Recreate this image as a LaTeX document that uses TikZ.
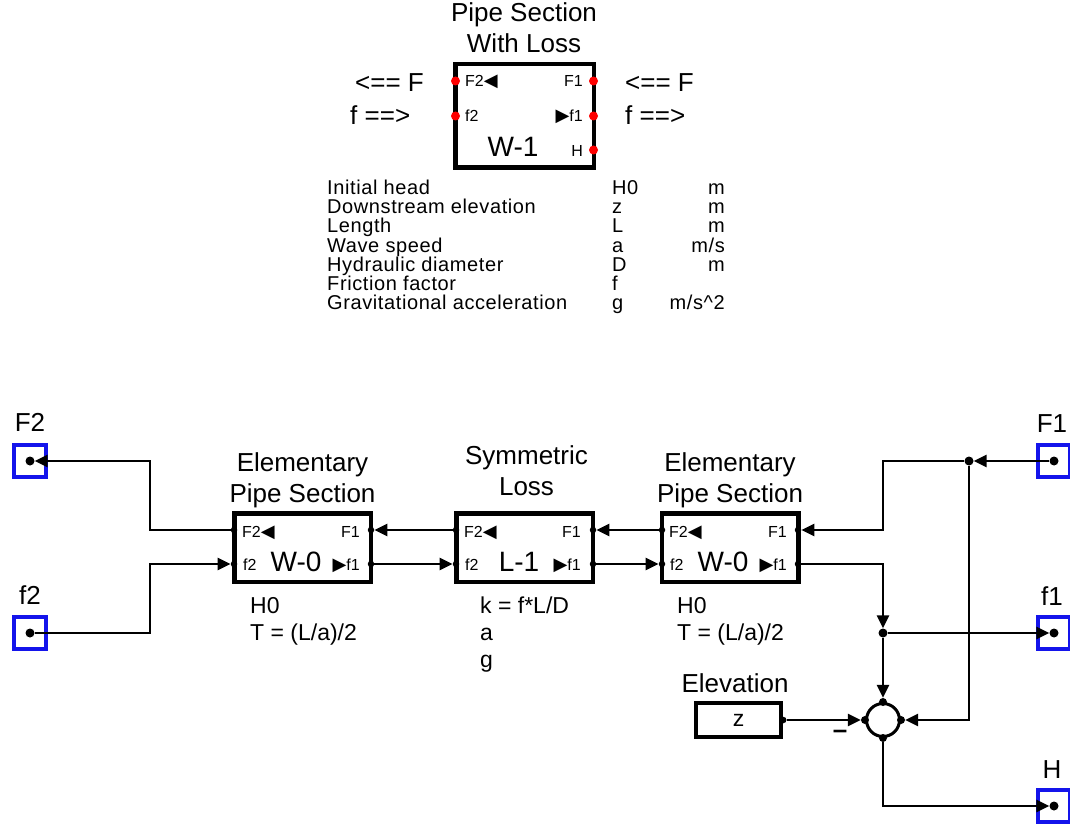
\documentclass[tikz,border=0pt]{standalone}
\usepackage{fontspec}
\setmainfont{Liberation Sans}
\newfontfamily\tabfont[LetterSpace=3]{Liberation Sans}
\newfontfamily\symfont{DejaVu Sans}
\usetikzlibrary{arrows.meta}
\definecolor{portblue}{RGB}{20,20,235}
\newcommand\fTitle{\fontsize{26}{31}\selectfont}
\newcommand\fBlk{\fontsize{28}{30}\selectfont}
\newcommand\fTab{\tabfont\fontsize{20}{19}\selectfont}
\newcommand\fNote{\fontsize{23}{27}\selectfont}
\newcommand\fPort{\fontsize{16}{18}\selectfont}
\newcommand\tl{{\symfont\fontsize{18}{18}\selectfont ◀}}
\newcommand\tr{{\symfont\fontsize{18}{18}\selectfont ▶}}

\tikzset{
  blk/.style={draw, line width=4.5pt, inner sep=0pt},
  pdot/.style={circle, fill=black, inner sep=0pt, minimum size=6.5pt},
  jdot/.style={circle, fill=black, inner sep=0pt, minimum size=9pt},
  rdot/.style={circle, fill=red, inner sep=0pt, minimum size=9pt},
  portbox/.style={draw=portblue, line width=4pt, minimum size=32pt, inner sep=0pt},
  flow/.style={line width=2.8pt, -{Triangle[length=13pt,width=12pt]}},
  txt/.style={inner sep=0pt},
}

\begin{document}
\begin{tikzpicture}[x=1pt, y=-1pt]
  \useasboundingbox (0,0) rectangle (1070,826);
  % bloque resumen W-1 con sus puertos (rojos)
  \node[txt, align=center, font=\fTitle] (ttlW) at (524,28) {Pipe Section\\With Loss};
  \node[blk, minimum width=138.5pt, minimum height=103.5pt] (wone) at (524.5,116) {};
  \node[rdot] (oF2) at (455.5,81) {};
  \node[rdot] (of2) at (455.5,116) {};
  \node[rdot] (oF1) at (593.5,81) {};
  \node[rdot] (of1) at (593.5,116) {};
  \node[rdot] (oH) at (593.5,150) {};
  \node[txt, font=\fPort, anchor=base west] (oF2t) at (465,87) {F2\tl};
  \node[txt, font=\fPort, anchor=base east] (oF1t) at (583,87) {F1};
  \node[txt, font=\fPort, anchor=base west] (of2t) at (465,122) {f2};
  \node[txt, font=\fPort, anchor=base east] (of1t) at (583,122) {\tr f1};
  \node[txt, font=\fBlk, anchor=base] (onet) at (513,157) {W-1};
  \node[txt, font=\fPort, anchor=base east] (oHt) at (583,157) {H};
  % sentidos de la onda
  \node[txt, font=\fTitle, anchor=base west] (dirLa) at (355,92) {<== F};
  \node[txt, font=\fTitle, anchor=base west] (dirLb) at (350,125) {f ==>};
  \node[txt, font=\fTitle, anchor=base west] (dirRa) at (625,92) {<== F};
  \node[txt, font=\fTitle, anchor=base west] (dirRb) at (625,125) {f ==>};
  % tabla de parametros
  \node[txt, font=\fTab, anchor=base west] (p1) at (327,195) {Initial head};
  \node[txt, font=\fTab, anchor=base west] (p2) at (327,214) {Downstream elevation};
  \node[txt, font=\fTab, anchor=base west] (p3) at (327,233) {Length};
  \node[txt, font=\fTab, anchor=base west] (p4) at (327,252) {Wave speed};
  \node[txt, font=\fTab, anchor=base west] (p5) at (327,271) {Hydraulic diameter};
  \node[txt, font=\fTab, anchor=base west] (p6) at (327,290) {Friction factor};
  \node[txt, font=\fTab, anchor=base west] (p7) at (327,309) {Gravitational acceleration};
  \node[txt, font=\fTab, anchor=base west] (s1) at (612,195) {H0};
  \node[txt, font=\fTab, anchor=base west] (s2) at (612,214) {z};
  \node[txt, font=\fTab, anchor=base west] (s3) at (612,233) {L};
  \node[txt, font=\fTab, anchor=base west] (s4) at (612,252) {a};
  \node[txt, font=\fTab, anchor=base west] (s5) at (612,271) {D};
  \node[txt, font=\fTab, anchor=base west] (s6) at (612,290) {f};
  \node[txt, font=\fTab, anchor=base west] (s7) at (612,309) {g};
  \node[txt, font=\fTab, anchor=base east] (u1) at (725,195) {m};
  \node[txt, font=\fTab, anchor=base east] (u2) at (725,214) {m};
  \node[txt, font=\fTab, anchor=base east] (u3) at (725,233) {m};
  \node[txt, font=\fTab, anchor=base east] (u4) at (725,252) {m/s};
  \node[txt, font=\fTab, anchor=base east] (u5) at (725,271) {m};
  \node[txt, font=\fTab, anchor=base east] (u7) at (725,309) {m/s\textasciicircum 2};

  % puertos externos (azul)
  \node[portbox] (pF2) at (30,461) {};
  \node[jdot] (pF2d) at (pF2) {};
  \node[txt, font=\fTitle, anchor=base] (pF2t) at (30,431) {F2};
  \node[portbox] (pf2) at (30,633) {};
  \node[jdot] (pf2d) at (pf2) {};
  \node[txt, font=\fTitle, anchor=base] (pf2t) at (30,604) {f2};
  \node[portbox] (pF1) at (1054,461) {};
  \node[jdot] (pF1d) at (pF1) {};
  \node[txt, font=\fTitle, anchor=base] (pF1t) at (1052,432) {F1};
  \node[portbox] (pf1) at (1054,633) {};
  \node[jdot] (pf1d) at (pf1) {};
  \node[txt, font=\fTitle, anchor=base] (pf1t) at (1052,605) {f1};
  \node[portbox] (pH) at (1054,806) {};
  \node[jdot] (pHd) at (pH) {};
  \node[txt, font=\fTitle, anchor=base] (pHt) at (1052,778) {H};

  % W-0 izquierda
  \node[txt, align=center, font=\fTitle] (wat) at (302.5,480.5) {Elementary\\Pipe Section};
  \node[blk, minimum width=136.5pt, minimum height=68.5pt] (wa) at (302.5,547.5) {};
  \node[pdot] (aF2) at (234,530) {};
  \node[pdot] (af2) at (234,564) {};
  \node[pdot] (aF1) at (371,530) {};
  \node[pdot] (af1) at (371,564) {};
  \node[txt, font=\fPort, anchor=base west] (aF2t) at (242,537) {F2\tl};
  \node[txt, font=\fPort, anchor=base west] (af2t) at (243,570) {f2};
  \node[txt, font=\fBlk, anchor=base] (wan) at (296,571) {W-0};
  \node[txt, font=\fPort, anchor=base east] (af1t) at (360,570) {\tr f1};
  \node[txt, font=\fPort, anchor=base east] (aF1t) at (360,537) {F1};
  \node[txt, font=\fNote, anchor=base west] (wap1) at (250,613) {H0};
  \node[txt, font=\fNote, anchor=base west] (wap2) at (250,640) {T = (L/a)/2};

  % perdida simetrica L-1
  \node[txt, align=center, font=\fTitle] (lbt) at (526.5,471) {Symmetric\\Loss};
  \node[blk, minimum width=136.5pt, minimum height=68.5pt] (lb) at (524.5,547.5) {};
  \node[pdot] (bF2) at (456,530) {};
  \node[pdot] (bf2) at (456,564) {};
  \node[pdot] (bF1) at (593,530) {};
  \node[pdot] (bf1) at (593,564) {};
  \node[txt, font=\fPort, anchor=base west] (bF2t) at (464,537) {F2\tl};
  \node[txt, font=\fPort, anchor=base west] (bf2t) at (465,570) {f2};
  \node[txt, font=\fBlk, anchor=base] (lbn) at (519,571) {L-1};
  \node[txt, font=\fPort, anchor=base east] (bf1t) at (581,570) {\tr f1};
  \node[txt, font=\fPort, anchor=base east] (bF1t) at (581,537) {F1};
  \node[txt, font=\fNote, anchor=base west] (lbp1) at (480,613) {k = f*L/D};
  \node[txt, font=\fNote, anchor=base west] (lbp2) at (480,640) {a};
  \node[txt, font=\fNote, anchor=base west] (lbp3) at (480,667) {g};

  % W-0 derecha
  \node[txt, align=center, font=\fTitle] (wbt) at (730,480.5) {Elementary\\Pipe Section};
  \node[blk, minimum width=136.5pt, minimum height=68.5pt] (wb) at (730,547.5) {};
  \node[pdot] (cF2) at (662,530) {};
  \node[pdot] (cf2) at (662,564) {};
  \node[pdot] (cF1) at (798,530) {};
  \node[pdot] (cf1) at (798,564) {};
  \node[txt, font=\fPort, anchor=base west] (cF2t) at (669,537) {F2\tl};
  \node[txt, font=\fPort, anchor=base west] (cf2t) at (670,570) {f2};
  \node[txt, font=\fBlk, anchor=base] (wbn) at (723,571) {W-0};
  \node[txt, font=\fPort, anchor=base east] (cf1t) at (787,570) {\tr f1};
  \node[txt, font=\fPort, anchor=base east] (cF1t) at (787,537) {F1};
  \node[txt, font=\fNote, anchor=base west] (wbp1) at (677,613) {H0};
  \node[txt, font=\fNote, anchor=base west] (wbp2) at (677,640) {T = (L/a)/2};

  % elevacion y sumador
  \node[txt, font=\fTitle, anchor=base] (elevt) at (735,692) {Elevation};
  \node[blk, minimum width=85pt, minimum height=34pt, font=\fNote] (elev) at (738.5,720) {z};
  \node[pdot] (zout) at (elev.east) {};
  \node[draw, circle, line width=3pt, minimum size=33pt, inner sep=0pt] (sum) at (883,720) {};
  \node[pdot, minimum size=8pt] (sN) at (sum.north) {};
  \node[pdot, minimum size=8pt] (sS) at (sum.south) {};
  \node[pdot, minimum size=8pt] (sW) at (sum.west) {};
  \node[pdot, minimum size=8pt] (sE) at (sum.east) {};
  \node[txt, font=\fTitle\bfseries] (minus) at (840,734) {–};
  \node[jdot] (J1) at (969,461) {};
  \node[jdot] (J2) at (883,633) {};
  \coordinate (kL) at (150,0);
  \coordinate (kR) at (883,0);

  % conexiones
  \draw[flow] (aF2) -- (aF2 -| kL) |- (pF2d);
  \draw[flow] (pf2d) -- (pf2d -| kL) |- (af2);
  \draw[flow] (bF2) -- (aF1);
  \draw[flow] (af1) -- (bf2);
  \draw[flow] (cF2) -- (bF1);
  \draw[flow] (bf1) -- (cf2);
  \draw[flow] (pF1d) -- (J1);
  \draw[flow] (J1) -- (J1 -| kR) |- (cF1);
  \draw[flow] (J1) |- (sE);
  \draw[flow] (cf1) -| (J2);
  \draw[flow] (J2) -- (pf1d);
  \draw[flow] (J2) -- (sN);
  \draw[flow] (zout) -- (sW);
  \draw[flow] (sS) |- (pHd);
\end{tikzpicture}
\end{document}
